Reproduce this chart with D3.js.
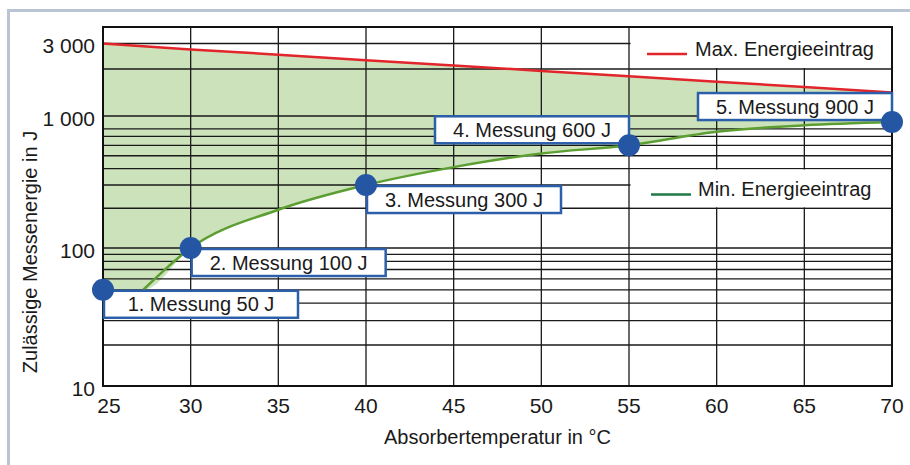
<!DOCTYPE html>
<html lang="de">
<head>
    <meta charset="UTF-8">
    <title>Zulässige Messenergie</title>
    <script src="https://d3js.org/d3.v7.min.js"></script>
    <style>
        body { margin: 0; background: #fff; }
        text { font-family: "Liberation Sans", Arial, sans-serif; fill: #1a1a1a; }
    </style>
</head>
<body>
<svg id="main" width="910" height="465"></svg>
<script>
    // data
    let temps = [25, 30, 35, 40, 45, 50, 55, 60, 65, 70];
    let maxEnergy = [3000, 2730, 2510, 2300, 2115, 1945, 1795, 1660, 1535, 1415];
    let minTemps = [25, 27.3, 30, 35, 40, 45, 50, 55, 60, 65, 70];
    let minEnergy = [50, 50, 100, 195, 300, 410, 520, 600, 760, 850, 900];
    let measureTemps = [25, 30, 40, 55, 70];
    let measureEnergy = [50, 100, 300, 600, 900];
    let measureLabels = ['1. Messung 50 J', '2. Messung 100 J', '3. Messung 300 J', '4. Messung 600 J', '5. Messung 900 J'];
    let xTicks = [25, 30, 35, 40, 45, 50, 55, 60, 65, 70];
    let yTicks = [10, 100, 1000, 3000];
    let yTickLabels = ['10', '100', '1 000', '3 000'];
    let yGrid = [20, 30, 40, 50, 60, 70, 80, 90, 100, 200, 300, 400, 500, 600, 700, 800, 1000, 2000, 3000];
    let legendNames = ['Max. Energieeintrag', 'Min. Energieeintrag'];

    let svg = d3.select('svg');
    let plot = {left: 103, right: 892, top: 27, bottom: 386};

    let fillColor = '#cce2bb';
    let maxColor = '#e2242b';
    let minColor = '#5c9e32';
    let blue = '#2456a4';

    // outer panel edge (cut at right and bottom)
    svg.append('rect')
        .attr('x', 8.5).attr('y', 10.5)
        .attr('width', 1000).attr('height', 1000)
        .attr('fill', 'none')
        .attr('stroke', '#b9c5d5')
        .attr('stroke-width', 3);

    let x = d3.scaleLinear().domain([25, 70]).range([plot.left, plot.right]);
    // the printed axis is a hand drawn log axis, so it is piecewise
    let y = d3.scaleLog()
        .domain([10, 20, 100, 1000, 2000, 3000])
        .range([plot.bottom, 345, 248, 116, 69, 43.5]);

    let maxPts = temps.map(function(t, i){ return [x(t), y(maxEnergy[i])]; });
    let minPts = minTemps.map(function(t, i){ return [x(t), y(minEnergy[i])]; });

    let lin = d3.line();
    let smooth = d3.line().curve(d3.curveMonotoneX);

    // green band between max and min
    let lower = smooth(minPts.slice().reverse()).replace(/^M/, 'L');
    svg.append('path')
        .attr('d', lin(maxPts) + lower + 'Z')
        .attr('fill', fillColor);

    // grid
    let grid = svg.append('g').attr('stroke', '#1a1a1a').attr('stroke-width', 1.3);
    grid.selectAll('.h')
        .data(yGrid)
        .enter()
        .append('line')
        .attr('x1', plot.left).attr('x2', plot.right)
        .attr('y1', function(d){ return y(d); })
        .attr('y2', function(d){ return y(d); });
    grid.selectAll('.v')
        .data(xTicks)
        .enter()
        .append('line')
        .attr('x1', function(d){ return x(d); })
        .attr('x2', function(d){ return x(d); })
        .attr('y1', plot.top).attr('y2', plot.bottom);

    // curves
    svg.append('path')
        .attr('d', lin(maxPts))
        .attr('fill', 'none')
        .attr('stroke', maxColor)
        .attr('stroke-width', 2.5);
    svg.append('path')
        .attr('d', smooth(minPts.slice(1)))
        .attr('fill', 'none')
        .attr('stroke', minColor)
        .attr('stroke-width', 2.5);

    // legend fields sit in the grid cells right of 55 °C
    let legendRows = [[3000, 2000], [400, 200]];
    let legendColors = [maxColor, '#1f7a45'];
    legendRows.forEach(function(r, i){
        let top = i == 0 ? plot.top : y(r[0]);
        let bottom = y(r[1]);
        svg.append('rect')
            .attr('x', x(55) + 1.5).attr('y', top + 1)
            .attr('width', plot.right - x(55) - 2)
            .attr('height', bottom - top - 2)
            .attr('fill', '#fff');
        let mid = (top + bottom) / 2;
        svg.append('line')
            .attr('x1', x(55) + 18 + i * 4).attr('x2', x(55) + 58 + i * 4)
            .attr('y1', mid + 6).attr('y2', mid + 6)
            .attr('stroke', legendColors[i])
            .attr('stroke-width', 2.5);
        svg.append('text')
            .attr('x', x(55) + 66 + i * 3)
            .attr('y', mid + 8)
            .attr('font-size', 20)
            .text(legendNames[i]);
    });

    // frame
    svg.append('rect')
        .attr('x', plot.left).attr('y', plot.top)
        .attr('width', plot.right - plot.left)
        .attr('height', plot.bottom - plot.top)
        .attr('fill', 'none')
        .attr('stroke', '#111')
        .attr('stroke-width', 2);

    // tick labels
    svg.selectAll('.xt')
        .data(xTicks)
        .enter()
        .append('text')
        .attr('x', function(d, i){ return x(d) + (i == 0 ? 6 : 0); })
        .attr('y', 413)
        .attr('text-anchor', 'middle')
        .attr('font-size', 21)
        .text(function(d){ return d; });
    svg.selectAll('.yt')
        .data(yTicks)
        .enter()
        .append('text')
        .attr('x', 95)
        .attr('y', function(d){ return y(d) + 2; })
        .attr('dy', '0.36em')
        .attr('text-anchor', 'end')
        .attr('font-size', 21)
        .text(function(d, i){ return yTickLabels[i]; });

    svg.append('text')
        .attr('x', (plot.left + plot.right) / 2)
        .attr('y', 444)
        .attr('text-anchor', 'middle')
        .attr('font-size', 20)
        .text('Absorbertemperatur in °C');
    svg.append('text')
        .attr('transform', 'translate(37,252) rotate(-90)')
        .attr('text-anchor', 'middle')
        .attr('font-size', 20)
        .text('Zulässige Messenergie in J');

    // measurement boxes and points
    let boxW = 194, boxH = 27;
    measureTemps.forEach(function(t, i){
        let cx = x(t), cy = y(measureEnergy[i]);
        let bx = i < 3 ? cx + 1 : cx - boxW;
        let by = i < 3 ? cy + 1 : cy - boxH - 2;
        svg.append('rect')
            .attr('x', bx).attr('y', by)
            .attr('width', boxW).attr('height', boxH)
            .attr('fill', '#fff')
            .attr('stroke', '#2c5fa9')
            .attr('stroke-width', 2.5);
        svg.append('text')
            .attr('x', bx + boxW / 2)
            .attr('y', by + boxH / 2)
            .attr('dy', '0.36em')
            .attr('text-anchor', 'middle')
            .attr('font-size', 20)
            .text(measureLabels[i]);
    });
    svg.selectAll('circle')
        .data(measureTemps)
        .enter()
        .append('circle')
        .attr('cx', function(d){ return x(d); })
        .attr('cy', function(d, i){ return y(measureEnergy[i]); })
        .attr('r', 11)
        .attr('fill', blue);
</script>
</body>
</html>
